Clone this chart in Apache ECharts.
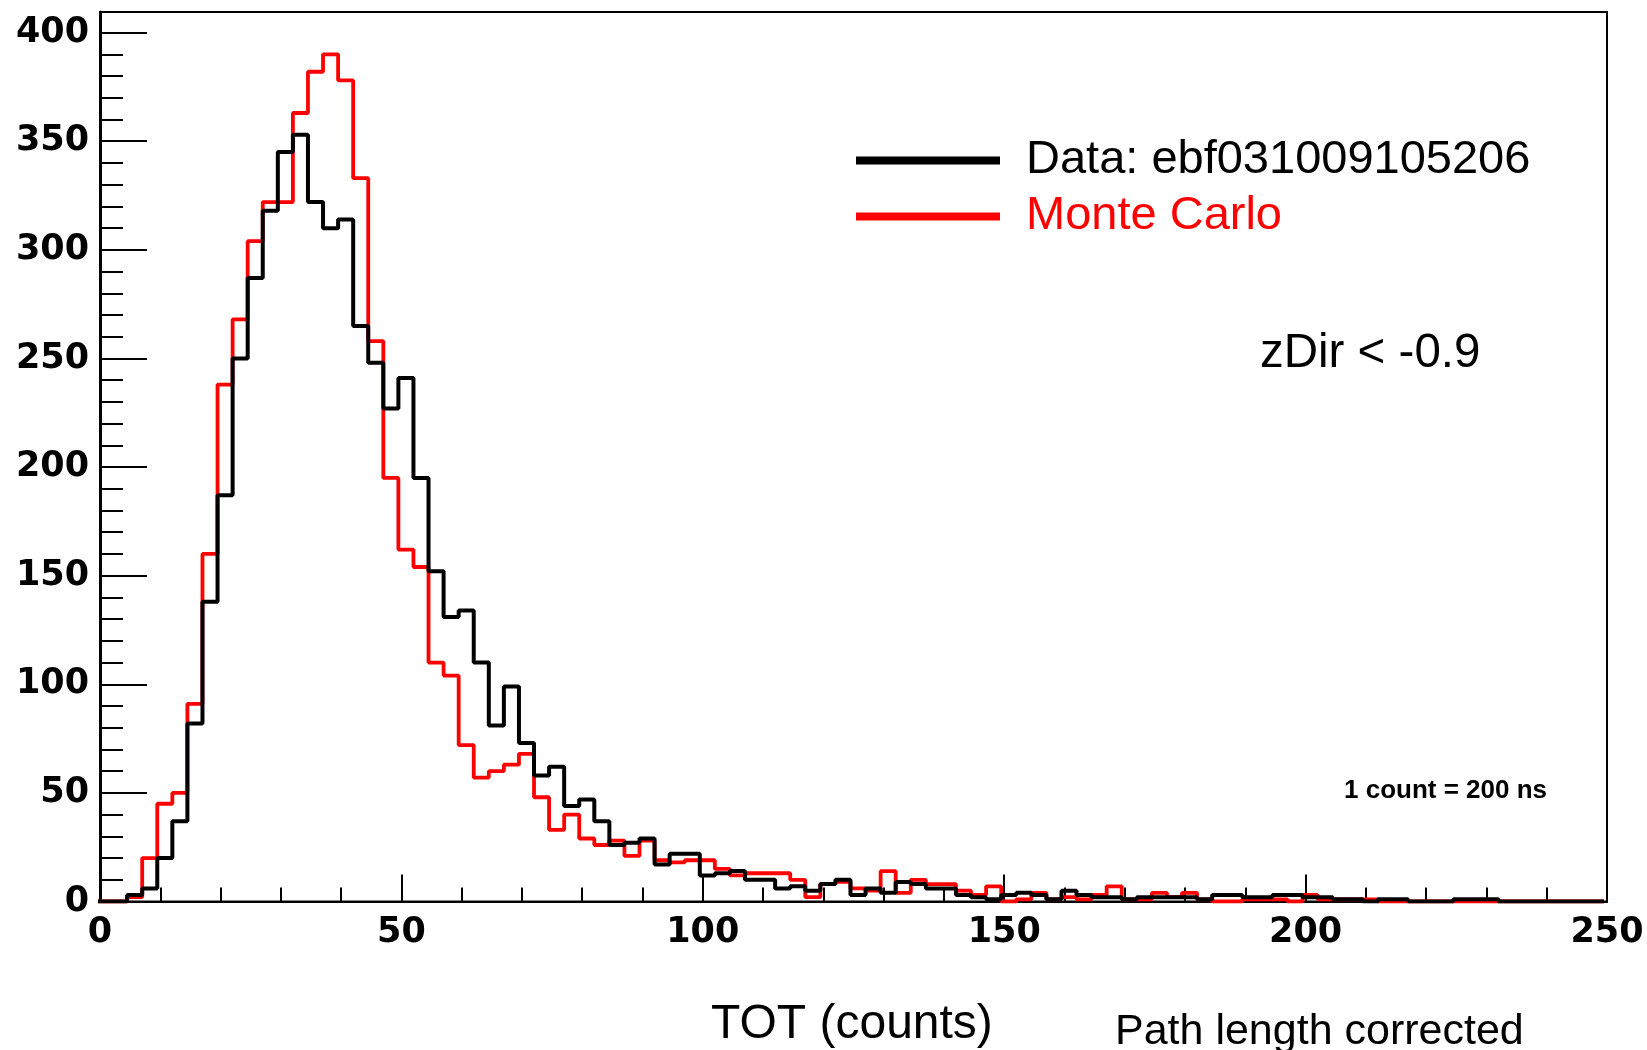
<!DOCTYPE html>
<html>
<head>
<meta charset="utf-8">
<script src="https://cdn.jsdelivr.net/npm/echarts@6/dist/echarts.min.js"></script>
<style>
html,body{margin:0;padding:0;background:#fff;}
#chart{width:1647px;height:1050px;}
</style>
</head>
<body>
<div id="chart"></div>
<script>
// ---- Data ----
const BIN_LOW = -0.5;     // lower edge of first bin
const BIN_WIDTH = 2.5;    // bin width (TOT counts)
const DATA_NAME = 'Data: ebf031009105206';
const MC_NAME = 'Monte Carlo';

const dataCounts = [
  0,0,3,6,20,37,82,138,187,250,
  287,318,345,353,322,310,314,265,248,227,
  241,195,152,131,134,110,81,99,73,58,
  62,44,47,37,26,27,29,17,22,22,
  12,13,14,10,10,6,7,5,8,10,
  3,6,4,9,8,6,6,3,2,1,
  3,4,3,1,5,3,2,2,1,2,
  2,2,2,1,3,3,2,2,3,3,
  2,2,1,1,0,1,1,0,0,0,
  1,1,1,0,0,0,0,0,0,0
];

const mcCounts = [
  0,0,2,20,45,50,91,160,238,268,
  304,322,322,363,382,390,378,333,258,195,
  162,154,110,104,72,57,60,63,68,48,
  33,40,29,26,28,21,28,19,18,19,
  19,15,12,13,13,13,10,2,8,9,
  6,5,14,4,10,8,8,5,3,7,
  0,1,4,1,2,1,3,7,1,1,
  4,2,4,1,0,0,1,1,1,0,
  3,1,1,1,1,0,0,0,0,0,
  0,0,0,0,0,0,0,0,0,0
];

const X_MIN = 0, X_MAX = 250, X_STEP = 50;
const Y_TOP = 409.5;
const yMajorTicks = [0,50,100,150,200,250,300,350,400];
const yMinorTicks = [10,20,30,40,60,70,80,90,110,120,130,140,160,170,180,190,
                     210,220,230,240,260,270,280,290,310,320,330,340,360,370,380,390];

// ---- Build step (histogram) points from bin edges ----
function histPoints(counts){
  const pts = counts.map((c,i)=>[BIN_LOW + i*BIN_WIDTH, c]);
  pts.push([BIN_LOW + counts.length*BIN_WIDTH, counts[counts.length-1]]);
  return pts;
}

const labelFont = {fontFamily:'DejaVu Sans', fontWeight:'bold', fontSize:35, color:'#000'};
const tickLine = {color:'#000', width:2};

const chart = echarts.init(document.getElementById('chart'), null, {renderer:'canvas'});
chart.setOption({
  animation:false,
  backgroundColor:'#ffffff',
  grid:{left:100, right:40, top:12, bottom:148.5, show:true, borderColor:'#000', borderWidth:2, backgroundColor:'transparent'},
  xAxis:{
    type:'value', min:X_MIN, max:X_MAX, interval:X_STEP,
    axisLine:{show:true, onZero:false, lineStyle:{color:'#000', width:2}},
    axisTick:{show:true, inside:true, length:27, lineStyle:tickLine},
    minorTick:{show:true, splitNumber:5, length:14, lineStyle:tickLine},
    splitLine:{show:false},
    axisLabel:Object.assign({margin:14}, labelFont)
  },
  yAxis:[{
    type:'value', min:0, max:Y_TOP,
    axisLine:{show:true, onZero:false, lineStyle:{color:'#000', width:3}},
    axisTick:{show:true, inside:true, length:47, customValues:yMajorTicks, lineStyle:tickLine},
    axisLabel:Object.assign({margin:11, customValues:yMajorTicks}, labelFont),
    splitLine:{show:false}
  },{
    type:'value', min:0, max:Y_TOP, position:'left',
    axisLine:{show:false},
    axisTick:{show:true, inside:true, length:23, customValues:yMinorTicks, lineStyle:tickLine},
    axisLabel:{show:false},
    splitLine:{show:false}
  }],
  legend:{
    orient:'vertical', left:851, top:132,
    itemWidth:144, itemHeight:8, itemGap:9, icon:'rect',
    selectedMode:false,
    textStyle:{fontFamily:'Liberation Sans', fontSize:47, padding:[0,0,0,21]},
    data:[
      {name:DATA_NAME, textStyle:{color:'#000'}},
      {name:MC_NAME, textStyle:{color:'#ff0000'}}
    ]
  },
  series:[{
    name:MC_NAME, type:'line', step:'end', showSymbol:false, clip:true,
    data:histPoints(mcCounts),
    itemStyle:{color:'#ff0000'},
    lineStyle:{color:'#ff0000', width:3.8},
    z:2
  },{
    name:DATA_NAME, type:'line', step:'end', showSymbol:false, clip:true,
    data:histPoints(dataCounts),
    itemStyle:{color:'#000'},
    lineStyle:{color:'#000', width:4},
    z:3
  }],
  graphic:[
    {type:'text', left:1260, top:330, style:{text:'zDir < -0.9', fontFamily:'Liberation Sans', fontSize:47.5, fill:'#000'}},
    {type:'text', left:1344, top:778, style:{text:'1 count = 200 ns', fontFamily:'Liberation Sans', fontWeight:'bold', fontSize:26, fill:'#000'}},
    {type:'text', left:711, top:1001, style:{text:'TOT (counts)', fontFamily:'Liberation Sans', fontSize:48, fill:'#000'}},
    {type:'text', left:1115, top:1011, style:{text:'Path length corrected', fontFamily:'Liberation Sans', fontSize:43, fill:'#000'}}
  ]
});
</script>
</body>
</html>
